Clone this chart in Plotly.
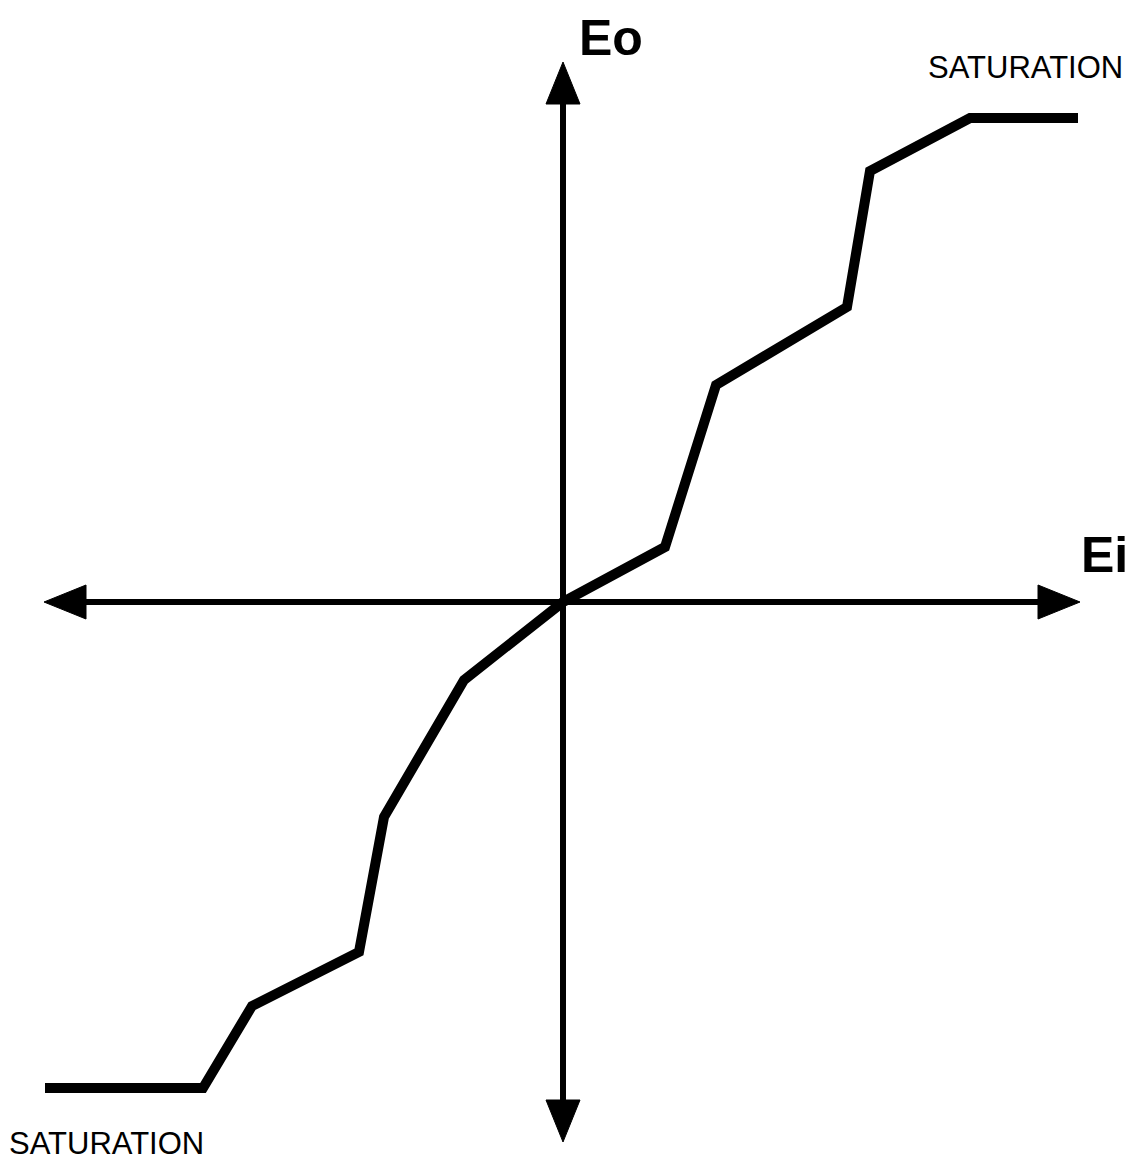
import plotly.graph_objects as go

# Transfer characteristic data (Ei input, Eo output), arbitrary units
ei = [-5.18, -3.60, -3.11, -2.04, -1.79, -0.99, 0.0, 1.02, 1.53, 2.84, 3.07, 4.07, 5.15]
eo = [-4.86, -4.86, -4.04, -3.50, -2.15, -0.78, 0.0, 0.55, 2.17, 2.95, 4.31, 4.84, 4.84]

# Axis extents (tips of arrows) in data units
x_axis_min, x_axis_max = -5.19, 5.17
y_axis_min, y_axis_max = -5.40, 5.40

axis_labels = ["Ei", "Eo"]
sat_label = "SATURATION"

W, H = 1143, 1169
PAGE_OFF = 8            # browser body margin
SCALE = 100.0           # pixels per unit
OX, OY = 563 - PAGE_OFF, 602 - PAGE_OFF   # origin position within the figure

x_range = [(0 - OX) / SCALE, (W - OX) / SCALE]
y_range = [(OY - H) / SCALE, (OY - 0) / SCALE]


def sx(p):
    return (p - PAGE_OFF - OX) / SCALE


def sy(p):
    return (OY - (p - PAGE_OFF)) / SCALE


fig = go.Figure()

AX_W = 6
HEAD_L = 0.42
HEAD_HW = 0.17

# axes lines
fig.add_trace(go.Scatter(x=[x_axis_min + HEAD_L * 0.9, x_axis_max - HEAD_L * 0.9], y=[0, 0],
                         mode="lines", line=dict(color="black", width=AX_W),
                         hoverinfo="skip", showlegend=False))
fig.add_trace(go.Scatter(x=[0, 0], y=[y_axis_min + HEAD_L * 0.9, y_axis_max - HEAD_L * 0.9],
                         mode="lines", line=dict(color="black", width=AX_W),
                         hoverinfo="skip", showlegend=False))

# arrowheads
heads = [
    ([x_axis_max, x_axis_max - HEAD_L, x_axis_max - HEAD_L, x_axis_max], [0, HEAD_HW, -HEAD_HW, 0]),
    ([x_axis_min, x_axis_min + HEAD_L, x_axis_min + HEAD_L, x_axis_min], [0, HEAD_HW, -HEAD_HW, 0]),
    ([0, HEAD_HW, -HEAD_HW, 0], [y_axis_max, y_axis_max - HEAD_L, y_axis_max - HEAD_L, y_axis_max]),
    ([0, HEAD_HW, -HEAD_HW, 0], [y_axis_min, y_axis_min + HEAD_L, y_axis_min + HEAD_L, y_axis_min]),
]
for hx, hy in heads:
    fig.add_trace(go.Scatter(x=hx, y=hy, mode="lines", fill="toself", fillcolor="black",
                             line=dict(color="black", width=1),
                             hoverinfo="skip", showlegend=False))

# curve
fig.add_trace(go.Scatter(x=ei, y=eo, mode="lines",
                         line=dict(color="black", width=10),
                         hoverinfo="skip", showlegend=False))

font_main = "Liberation Sans, Arial, sans-serif"
fig.add_annotation(x=sx(611), y=sy(38), xref="x", yref="y",
                   text="<b>" + axis_labels[1] + "</b>", showarrow=False,
                   font=dict(family=font_main, size=50, color="black"),
                   xanchor="center", yanchor="middle", borderpad=0)
fig.add_annotation(x=sx(1104), y=sy(555), xref="x", yref="y",
                   text="<b>" + axis_labels[0] + "</b>", showarrow=False,
                   font=dict(family=font_main, size=50, color="black"),
                   xanchor="center", yanchor="middle", borderpad=0)
fig.add_annotation(x=sx(1025), y=sy(67), xref="x", yref="y",
                   text=sat_label, showarrow=False,
                   font=dict(family=font_main, size=31, color="black"),
                   xanchor="center", yanchor="middle", borderpad=0)
fig.add_annotation(x=sx(106), y=sy(1143), xref="x", yref="y",
                   text=sat_label, showarrow=False,
                   font=dict(family=font_main, size=31, color="black"),
                   xanchor="center", yanchor="middle", borderpad=0)

fig.update_layout(
    width=W, height=H,
    margin=dict(l=0, r=0, t=0, b=0),
    paper_bgcolor="white", plot_bgcolor="white",
    xaxis=dict(range=x_range, visible=False, fixedrange=True),
    yaxis=dict(range=y_range, visible=False, fixedrange=True),
    showlegend=False,
)

fig.write_html("out.html", config={"displayModeBar": False})
